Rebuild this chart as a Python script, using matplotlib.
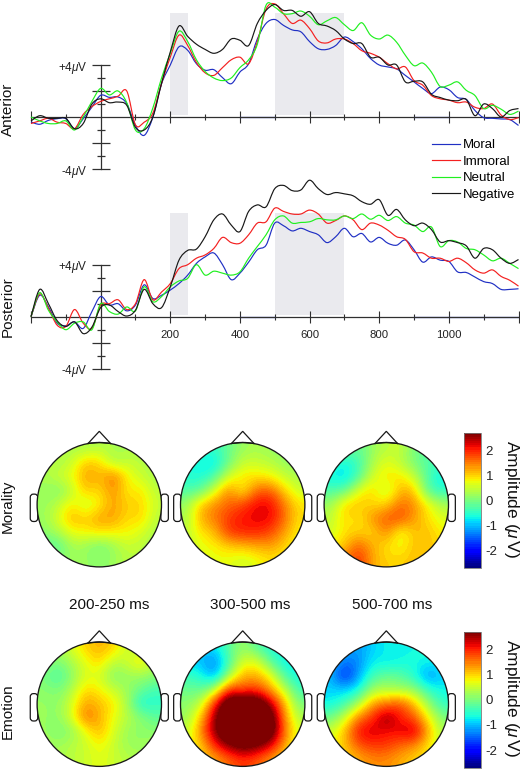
import numpy as np
import matplotlib
matplotlib.use("Agg")
import matplotlib.pyplot as plt
from matplotlib.patches import Circle, FancyBboxPatch, PathPatch
from matplotlib.path import Path
from matplotlib.lines import Line2D
from matplotlib.cm import ScalarMappable
from matplotlib.colors import Normalize

plt.rcParams['font.family'] = ['Liberation Sans', 'DejaVu Sans']
plt.rcParams['mathtext.fontset'] = 'custom'
plt.rcParams['mathtext.rm'] = 'Liberation Sans'
plt.rcParams['mathtext.it'] = 'Liberation Sans:italic'

times = list(range(-200, 1201, 25))
series_names = ["Moral", "Immoral", "Neutral", "Negative"]
series_colors = ["#2030c4", "#f42020", "#20f020", "#181818"]

ant_moral = [-0.38,-0.56,-0.26,-0.13,-0.13,-0.9,-0.13,0.77,1.67,1.51,1.54,1.03,-0.64,-1.41,0,2.56,4.0,5.4,5.13,4.1,3.6,3.64,3.03,2.56,3.46,4.1,6.0,
             7.2,7.5,7.05,6.7,6.55,5.8,5.25,5.2,5.5,6.15,5.8,5.25,4.5,4.0,3.85,3.7,3.2,2.7,2.2,1.8,2.3,2.1,1.5,1.35,0.5,-0.05,-0.1,-0.15,-0.2,-0.65]
ant_immoral = [-0.5,-0.3,-0.1,-0.4,-0.5,-0.9,0.2,0.8,1.2,1.4,1.6,2.0,-0.6,-0.4,0.3,2.6,4.6,6.3,5.5,4.2,3.4,3.2,3.8,4.4,4.6,4.1,5.8,
               8.3,8.7,7.95,7.2,7.45,6.8,5.85,5.7,6.0,6.0,5.65,5.1,4.9,4.6,4.1,3.7,3.85,2.8,2.45,1.65,1.4,1.3,1.1,1.15,0.75,0.65,1.0,0.15,-0.2,-0.05]
ant_neutral = [0,-0.3,-0.5,-0.5,-0.3,-1.0,0,1.2,2.2,1.7,2.0,1.1,-1.0,-0.9,0.7,3.0,4.9,6.6,5.8,4.4,3.5,3.0,2.8,3.0,3.8,4.4,5.6,
               8.6,8.45,7.95,7.95,8.15,7.75,7.1,7.4,7.65,7.1,6.65,7.25,6.3,6.0,6.3,5.75,4.75,3.95,4.15,3.45,2.35,2.45,2.7,2.05,1.65,0.65,0.9,0.6,0.2,0.45]
ant_negative = [-0.3,0.1,-0.1,-0.1,-0.1,-0.9,-0.5,1.0,1.4,1.1,1.15,0.9,-0.8,-1.0,0,2.6,5.0,7.0,6.2,5.6,5.2,4.9,5.2,6.0,5.9,5.5,7.2,
                8.2,8.65,8.2,8.2,7.75,8.1,7.2,7.0,6.65,6.0,5.65,5.65,4.6,4.6,4.0,4.0,2.7,2.75,2.7,1.75,1.5,1.3,1.25,1.35,0.1,1.0,0.65,0,0.5,0.65]

post_moral = [0,1.65,0.75,-0.5,-0.7,-0.4,-0.9,0.4,1.55,0.9,1.0,0.45,0.9,2.45,1.4,1.65,2.05,2.55,3.2,4.1,4.6,4.9,4.0,2.85,3.35,4.2,5.15,
              5.5,7.2,7.0,6.6,6.8,6.55,6.3,5.7,6.15,6.8,6.15,6.4,5.75,6.1,5.65,5.5,5.9,5.15,4.2,4.6,4.35,4.25,3.45,3.4,3.05,2.7,2.55,2.1,2.1,2.15]
post_immoral = [0,1.75,0.65,-0.65,-0.75,0.55,-0.5,-0.9,0.9,1.0,1.3,0.55,1.0,2.85,1.3,1.9,2.55,3.7,4.0,4.5,4.75,5.25,6.1,5.7,5.65,6.3,7.2,
                7.3,8.35,8.1,7.9,7.9,8.2,7.9,7.2,7.4,7.75,7.45,6.7,7.2,7.05,6.65,6.15,5.95,5.0,4.9,4.5,4.5,4.25,4.5,4.15,3.6,3.35,3.6,3.1,2.8,2.35]
post_neutral = [0,1.85,0.5,-0.4,-1.0,-0.5,-0.4,-1.0,1.0,0.4,0.2,0.75,0.45,2.3,1.15,1.55,2.3,2.75,2.95,4.0,3.2,3.5,3.35,3.2,3.45,4.5,5.4,
                6.3,7.45,7.75,7.2,7.25,7.3,7.55,7.45,7.45,7.75,7.55,7.9,7.5,7.8,7.4,7.7,7.2,7.05,6.55,6.9,5.4,5.85,5.75,5.25,5.15,4.75,4.3,4.5,4.1,3.7]
post_negative = [0,2.1,1.0,-0.3,-0.75,-0.4,-1.3,-0.8,0.7,0.9,0.4,0.05,0.5,2.1,1.0,0.7,2.3,4.35,5.1,5.2,6.15,7.45,7.9,7.05,6.55,8.1,8.6,
                 8.45,9.85,10.1,9.7,9.75,10.5,9.85,9.4,9.55,9.45,9.3,8.85,8.65,9.0,7.8,8.25,7.45,7.0,7.2,6.7,5.75,5.85,5.7,5.45,4.5,5.25,5.15,4.5,4.1,4.4]

windows = [(200, 250), (500, 700)]
x_major = [-200, 200, 400, 600, 800, 1000, 1200]
x_minor = [-100, 100, 300, 500, 700, 900, 1100]
x_labels = ["", "200", "400", "600", "800", "1000", ""]
y_major = [-4, -2, 2, 4]
y_minor = [-3, -1, 1, 3]
y_labels = [r"-4$\mu$V", "", "", r"+4$\mu$V"]

ant_blue_axis = [(400, 500), (900, 1000)]
post_blue_axis = [(400, 500), (900, 1200)]

# topographies, rows from front of the head to the back
map_morality_200 = [
    [.3,.3,.3,.3,.4,.3,.3,.3,.3],
    [.3,.3,.5,1.1,1.0,.3,.5,.4,.3],
    [.3,.5,.7,1.3,1.1,1.6,.8,.5,.3],
    [.2,.0,.4,1.1,.9,1.4,.8,.9,.4],
    [.2,.4,.9,.4,.8,1.3,1.0,1.0,.5],
    [.2,.6,1.2,1.0,1.3,1.3,.9,1.0,.4],
    [.1,.3,.7,.8,.9,.8,.8,.6,.3],
    [-.2,-.3,.3,.2,-.1,.2,.5,.4,.3],
    [.2,.1,.2,.2,.1,.2,.4,.4,.3]]
map_morality_300 = [
    [-.3,-.4,-.5,-.1,.2,.3,.2,.1,.0],
    [-.5,-.8,-.8,-.1,.5,.5,.4,.2,.1],
    [-.6,-.6,-.3,.6,.9,.9,.8,.5,.3],
    [-.3,-.2,.6,1.5,.7,1.6,1.7,1.0,.5],
    [.2,1.1,1.4,1.6,1.8,2.2,2.2,1.5,.9],
    [.3,1.2,1.5,1.9,2.1,2.2,2.2,1.6,.9],
    [.4,.9,1.1,1.9,2.0,2.0,1.8,1.3,.8],
    [.4,.7,.8,1.0,1.1,1.2,1.3,1.0,.7],
    [.5,.6,.7,.7,.5,.7,.9,.8,.6]]
map_morality_500 = [
    [.1,.0,-.2,.2,.4,.5,.0,-.3,-.3],
    [-.5,-.7,-.4,.3,.7,.4,.0,-.3,-.4],
    [-.7,-.9,-.3,.6,.9,.9,.5,-.3,-.8],
    [-.3,-.2,.7,1.0,.3,1.2,1.1,-.3,-.5],
    [.2,1.0,1.1,.9,1.0,1.6,1.4,.8,.3],
    [.4,1.0,.8,1.4,1.7,1.8,1.3,.9,.6],
    [.5,.9,1.0,.9,1.5,.6,1.1,1.1,.8],
    [.8,1.1,1.7,1.2,.9,.7,1.1,1.1,.9],
    [1.0,1.5,2.0,1.2,1.0,1.0,1.1,1.1,.9]]
map_emotion_200 = [
    [.3,.3,.6,1.0,1.2,1.0,.5,.3,.2],
    [.2,.0,.3,.7,1.0,.4,.5,1.0,.3],
    [.0,-.4,.1,.6,.6,.0,.2,.2,.1],
    [.1,.0,.3,1.0,.8,.5,.2,-.1,-.4],
    [.2,.1,.6,1.3,1.1,.9,.3,-.7,-.5],
    [.2,.1,.6,1.6,1.2,.7,.4,.1,-.2],
    [.2,.0,.1,.7,1.2,.6,.2,.1,.1],
    [.3,.2,.4,.5,.8,.5,.2,.2,.3],
    [.4,.3,.4,.5,.7,.5,.4,.3,.3]]
map_emotion_300 = [
    [-.9,-.9,-.8,-.2,.2,-.2,-.6,-.7,-.7],
    [-.9,-1.0,-1.4,-.4,.6,.7,-.2,-.7,-.8],
    [-.4,-.6,-1.2,.2,1.2,1.2,.8,-.3,-.7],
    [-.1,-.2,.3,2.0,1.7,1.9,1.3,.5,-.4],
    [.1,.4,2.0,3.4,3.4,3.4,2.5,1.2,.0],
    [.2,1.0,2.6,3.6,3.6,3.6,3.3,1.4,.3],
    [.4,1.4,2.6,3.6,3.6,3.6,3.3,1.6,.6],
    [.6,1.0,2.0,2.6,3.0,2.8,2.3,1.3,.5],
    [.7,.9,1.2,1.6,1.9,1.7,1.3,.9,.5]]
map_emotion_500 = [
    [-.8,-1.0,-1.2,-.9,-.7,-.7,-.7,-.6,-.6],
    [-.9,-1.4,-1.3,-.7,-.8,-.7,-.6,-.7,-.7],
    [-1.0,-2.0,-1.1,-.4,-.1,-.2,-.6,-1.3,-.9],
    [-.9,-.9,-.7,.3,.3,.2,.2,-.5,-.7],
    [-.7,-.4,.3,1.3,1.5,1.8,1.1,.2,-.5],
    [-.1,.5,1.5,1.9,2.7,2.0,1.7,.8,.0],
    [.5,1.1,2.2,2.3,2.1,2.2,2.5,1.2,.3],
    [.7,1.1,1.7,1.9,1.9,1.6,1.4,.9,.4],
    [.7,.9,1.2,1.4,1.4,1.2,1.0,.8,.5]]

window_titles = ["200-250 ms", "300-500 ms", "500-700 ms"]
cbar_ticks = [-2, -1, 0, 1, 2]
cbar_labels = ["-2", "-1", "0", "1", "2"]

W, H = 520, 769
fig = plt.figure(figsize=(W / 100, H / 100), dpi=100)


def px_axes(left, top, width, height):
    return fig.add_axes([left / W, 1 - (top + height) / H, width / W, height / H])


def smooth_path(xs, ys):
    # bezier through the read points so the trace does not look polygonal
    pts = np.column_stack([xs, ys]).astype(float)
    verts = [pts[0]]
    codes = [Path.MOVETO]
    for i in range(len(pts) - 1):
        a = pts[max(i - 1, 0)]
        b = pts[i]
        c = pts[i + 1]
        d = pts[min(i + 2, len(pts) - 1)]
        verts += [b + (c - a) / 6, c - (d - b) / 6, c]
        codes += [Path.CURVE4] * 3
    return Path(verts, codes)


def erp_panel(baseline, curves, blue_axis, labels):
    # 13 px per microvolt, baseline given in pixels
    ymax = baseline / 13 if baseline < 130 else 11
    ax = px_axes(31, baseline - ymax * 13, 487.5, (ymax + 5) * 13)
    ax.patch.set_alpha(0)
    ax.set_xlim(-200, 1200)
    ax.set_ylim(-5, ymax)
    for w in windows:
        ax.fill_between(w, 0.15, 8.0, color="#eaeaee", lw=0, zorder=0)
    for s in ["top", "right"]:
        ax.spines[s].set_visible(False)
    ax.spines["bottom"].set_position("zero")
    ax.spines["left"].set_position("zero")
    ax.spines["bottom"].set_bounds(-200, 1200)
    ax.spines["left"].set_bounds(-4, 4)
    for s in ["bottom", "left"]:
        ax.spines[s].set_linewidth(0.9)
        ax.spines[s].set_color("#303030")
    ax.set_xticks(x_major)
    ax.set_xticklabels(x_labels if labels else [""] * len(x_major), fontsize=8.2, color="#222222")
    ax.set_xticks(x_minor, minor=True)
    ax.set_yticks(y_major)
    ax.set_yticklabels(y_labels, fontsize=8.5, color="#222222")
    ax.set_yticks(y_minor, minor=True)
    ax.tick_params(axis="x", which="major", direction="inout", length=9, width=0.8, color="#303030", pad=5)
    ax.tick_params(axis="x", which="minor", direction="inout", length=4, width=0.8, color="#303030")
    ax.tick_params(axis="y", which="major", direction="inout", length=13, width=0.9, color="#303030", pad=3)
    ax.tick_params(axis="y", which="minor", direction="inout", length=6, width=0.9, color="#303030")
    for b in blue_axis:
        ax.plot(b, [0, 0], color=series_colors[0], lw=0.9, zorder=2.4)
    for vals, col in zip(curves, series_colors):
        ax.add_patch(PathPatch(smooth_path(times, vals), fc="none", ec=col, lw=0.85, zorder=3, clip_on=False))
    return ax


ax_ant = erp_panel(117, [ant_moral, ant_immoral, ant_neutral, ant_negative], ant_blue_axis, False)
ax_post = erp_panel(316.7, [post_moral, post_immoral, post_neutral, post_negative], post_blue_axis, True)

handles = [Line2D([], [], color=c, lw=0.85) for c in series_colors]
fig.legend(handles, series_names, loc="upper left", bbox_to_anchor=(432 / W, 1 - 139 / H), frameon=False,
           fontsize=9.5, handlelength=2.15, handletextpad=0.2, labelspacing=0.33, borderpad=0, borderaxespad=0)


def head_map(cx, cy, values, r=62.2):
    span = 1.3
    ax = px_axes(cx - r * span, cy - r * span, 2 * r * span, 2 * r * span)
    ax.set_xlim(-span, span)
    ax.set_ylim(-span, span)
    ax.axis("off")
    im = ax.imshow(values, extent=(-1, 1, -1, 1), origin="upper", cmap=jet64, norm=norm,
                   interpolation="bicubic", zorder=1)
    im.set_clip_path(Circle((0, 0), 1, transform=ax.transData))
    ax.add_patch(Circle((0, 0), 1, fc="none", ec="#181818", lw=0.95, zorder=3))
    ax.plot([-0.18, 0, 0.18], [0.985, 1.18, 0.985], color="#181818", lw=0.9, zorder=2, solid_joinstyle="miter")
    ax.plot([-0.18, 0, 0.18], [0.985, 1.0, 0.985], color="#181818", lw=0.9, zorder=2)
    for x0 in (-1.11, 0.99):
        ax.add_patch(FancyBboxPatch((x0 + 0.05, -0.22), 0.02, 0.34, boxstyle="round,pad=0.05,rounding_size=0.05",
                                    fc="white", ec="#181818", lw=0.9, zorder=0.5))


def amp_bar(top, height):
    cax = px_axes(464, top, 17.3, height)
    cb = fig.colorbar(ScalarMappable(norm=norm, cmap=jet64), cax=cax)
    cb.set_ticks(cbar_ticks)
    cb.set_ticklabels(cbar_labels, fontsize=9.5, color="#222222")
    cax.tick_params(length=0, pad=3)
    cb.outline.set_edgecolor("#777777")
    cb.outline.set_linewidth(0.6)
    return cb


jet64 = plt.get_cmap("jet", 64)
norm = Normalize(-2.7, 2.7)

head_map(99.3, 504.7, map_morality_200)
head_map(242.7, 504.7, map_morality_300)
head_map(386.3, 504.7, map_morality_500)
head_map(99.3, 704.2, map_emotion_200)
head_map(242.7, 704.2, map_emotion_300)
head_map(386.3, 704.2, map_emotion_500)

amp_bar(432.7, 135)
amp_bar(631.7, 136)

for cx, t in zip([109, 250, 392], window_titles):
    fig.text(cx / W, 1 - 605 / H, t, fontsize=11, ha="center", va="center", color="#111111")

row_labels = [("Anterior", 109), ("Posterior", 307), ("Morality", 506), ("Emotion", 711)]
for t, y in row_labels:
    fig.text(8 / W, 1 - y / H, t, fontsize=11, rotation=90, ha="center", va="center", color="#111111")

for y in (499, 698):
    fig.text(511 / W, 1 - y / H, r"Amplitude ($\mu\,$V)", fontsize=12.5, rotation=270, ha="center", va="center", color="#111111")

fig.savefig("out.png", dpi=100)
